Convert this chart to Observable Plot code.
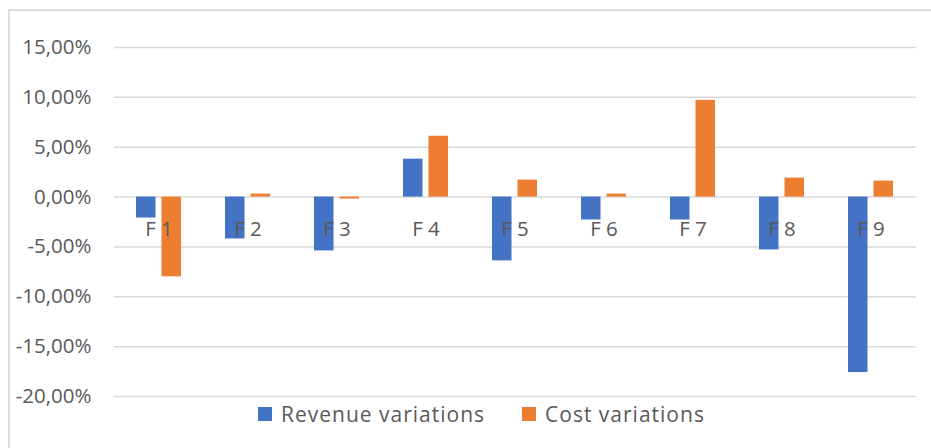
<!DOCTYPE html>
<html>
<head>
<meta charset="utf-8">
<script src="https://cdn.jsdelivr.net/npm/d3@7"></script>
<script src="https://cdn.jsdelivr.net/npm/@observablehq/plot@0.6"></script>
<style>
  html, body { margin: 0; padding: 0; background: #fff; }
  #wrap { position: relative; width: 931px; height: 448px; overflow: hidden; font-family: "Open Sans", sans-serif; }
  #frame { position: absolute; left: 8px; top: 9px; right: -4px; bottom: -4px; border-top: 2px solid #dcdcdc; border-left: 2px solid #dcdcdc; }
  #chart { position: absolute; left: 0; top: 0; }
  #legend { position: absolute; left: 258px; top: 402px; display: flex; align-items: center; line-height: 24px; font-size: 21px; letter-spacing: 1px; color: #595959; white-space: nowrap; }
  .sw { width: 14px; height: 14px; margin-right: 9px; display: inline-block; }
  .item { display: flex; align-items: center; }
</style>
</head>
<body>
<div id="wrap">
  <div id="frame"></div>
  <div id="chart"></div>
  <div id="legend"></div>
</div>
<script>
const categories = ["F 1", "F 2", "F 3", "F 4", "F 5", "F 6", "F 7", "F 8", "F 9"];
const revenueVariations = [-2.1, -4.2, -5.4, 3.8, -6.4, -2.3, -2.3, -5.3, -17.6];
const costVariations = [-8.0, 0.3, -0.2, 6.1, 1.7, 0.3, 9.7, 1.9, 1.6];
const yTicks = [-20, -15, -10, -5, 0, 5, 10, 15];
const seriesNames = ["Revenue variations", "Cost variations"];
const seriesColors = ["#4472C4", "#ED7D31"];

const revData = categories.map((c, i) => ({cat: c, value: revenueVariations[i]}));
const costData = categories.map((c, i) => ({cat: c, value: costVariations[i]}));

const fmt = d => d.toFixed(2).replace(".", ",") + "%";

const chart = Plot.plot({
  width: 931,
  height: 412,
  marginLeft: 114,
  marginRight: 15,
  marginTop: 47,
  marginBottom: 16,
  style: {fontFamily: "'Open Sans', sans-serif", fontSize: "20.5px", color: "#595959", background: "transparent"},
  x: {domain: categories, paddingInner: 0.49, paddingOuter: 0.245, axis: null},
  y: {domain: [-20, 15], ticks: yTicks, tickFormat: fmt, tickSize: 0, tickPadding: 23, label: null},
  marks: [
    Plot.ruleY(yTicks, {stroke: "#d9d9d9", strokeWidth: 1.5}),
    Plot.barY(revData, {x: "cat", y: "value", fill: seriesColors[0], insetRight: 25.5}),
    Plot.barY(costData, {x: "cat", y: "value", fill: seriesColors[1], insetLeft: 25.5}),
    Plot.text(categories, {x: d => d, y: () => 0, dy: 32, text: d => d, fill: "#595959", fontSize: 20.5, textAnchor: "middle"})
  ]
});
document.getElementById("chart").appendChild(chart);

const legend = document.getElementById("legend");
seriesNames.forEach((name, i) => {
  const item = document.createElement("div");
  item.className = "item";
  if (i > 0) item.style.marginLeft = "37px";
  const sw = document.createElement("span");
  sw.className = "sw";
  sw.style.background = seriesColors[i];
  const label = document.createElement("span");
  label.textContent = name;
  item.appendChild(sw);
  item.appendChild(label);
  legend.appendChild(item);
});
</script>
</body>
</html>
